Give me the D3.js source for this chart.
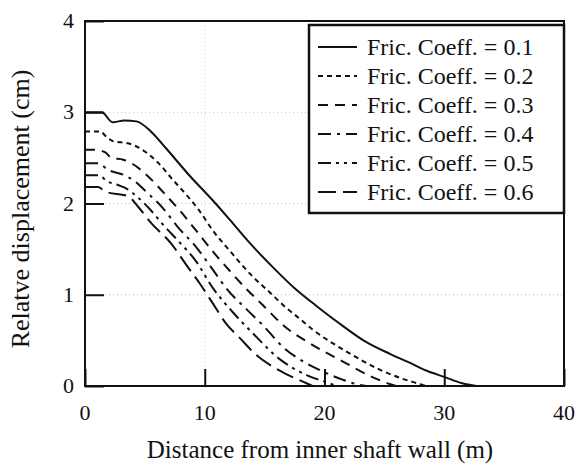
<!DOCTYPE html>
<html>
<head>
<meta charset="utf-8">
<script src="https://d3js.org/d3.v7.min.js"></script>
<style>
  body { margin: 0; background: #fff; }
  text { font-family: "Liberation Serif", "Times New Roman", serif; fill: #111; }
</style>
</head>
<body>
<div id="svg_chart"></div>
<script>
///////////// Data //////////////
// friction coefficients, one curve each
var fric_coeffs = [0.1, 0.2, 0.3, 0.4, 0.5, 0.6];

// [distance (m), relative displacement (cm)]
var curve_01 = [[0,3.0],[1.4,3.0],[2.3,2.89],[3.3,2.91],[4.3,2.9],[5.5,2.79],[6.8,2.6],[8.7,2.31],
  [10.7,2.03],[12.1,1.82],[13.6,1.59],[15.7,1.3],[17.6,1.06],[19.3,0.88],[21.2,0.69],[23.5,0.48],
  [25.5,0.35],[27.2,0.25],[28.5,0.17],[30,0.1],[31.5,0.03],[32.7,0]];
var curve_02 = [[0,2.79],[1.25,2.79],[1.8,2.73],[2.4,2.68],[3.6,2.66],[5,2.57],[6,2.46],[7.4,2.25],
  [8.7,2.06],[9.5,1.93],[10.7,1.7],[12.1,1.48],[14,1.2],[15.4,1.03],[16.6,0.88],[17.9,0.74],
  [19,0.62],[21.8,0.38],[24.6,0.18],[26.5,0.08],[28,0.02],[28.5,0]];
var curve_03 = [[0,2.59],[0.8,2.59],[1.7,2.56],[2.2,2.5],[3.2,2.48],[3.9,2.44],[5,2.33],[6.7,2.1],
  [8,1.91],[9.3,1.7],[10.7,1.47],[12.1,1.26],[13.5,1.06],[14.9,0.88],[16.6,0.66],[18.75,0.47],
  [21.5,0.27],[24.3,0.08],[25.5,0.02],[26,0]];
var curve_04 = [[0,2.44],[1.1,2.44],[1.9,2.37],[3.3,2.31],[4.2,2.24],[5.1,2.13],[6.5,1.95],[7.7,1.75],
  [9.3,1.52],[10.7,1.27],[11.8,1.07],[13.5,0.84],[14.9,0.66],[16.5,0.43],[18.2,0.27],[20,0.15],
  [21.5,0.07],[23,0.01],[23.5,0]];
var curve_05 = [[0,2.31],[1.1,2.31],[1.9,2.24],[2.8,2.2],[3.5,2.16],[4.3,2.08],[5.4,1.94],[6.5,1.77],
  [8,1.56],[9.2,1.38],[10.7,1.07],[12.4,0.8],[14,0.58],[16.2,0.3],[18.5,0.12],[20.4,0.03],[21,0]];
var curve_06 = [[0,2.18],[1.1,2.18],[1.7,2.13],[3.6,2.08],[4.4,1.97],[5.5,1.79],[7.2,1.56],[8.5,1.32],
  [9.6,1.12],[10.7,0.9],[11.8,0.68],[12.9,0.53],[14.3,0.34],[15.7,0.21],[16.8,0.13],[18.5,0.03],[19,0]];

var x_ticks = [0, 10, 20, 30, 40];
var y_ticks = [0, 1, 2, 3, 4];

var curves = [curve_01, curve_02, curve_03, curve_04, curve_05, curve_06];
// dash style per curve
var dash_styles = [null, '5,4', '10,7', '13,6,3,6', '13,5,3,5,3,5', '18,7'];

///////////// Canvas & scales //////////////
const svg_width = 577;
const svg_height = 466;
const plot_left = 85, plot_right = 564, plot_top = 21, plot_bottom = 386;

var svg = d3.select('#svg_chart').append('svg')
  .attr('width', svg_width)
  .attr('height', svg_height);

var x_scale = d3.scaleLinear().domain([0, 40]).range([plot_left, plot_right]);
var y_scale = d3.scaleLinear().domain([0, 4]).range([plot_bottom, plot_top]);

// faint dotted grid
svg.append('g').selectAll('line').data([1, 2, 3]).join('line')
  .attr('x1', plot_left).attr('x2', plot_right)
  .attr('y1', d => y_scale(d)).attr('y2', d => y_scale(d))
  .attr('stroke', '#bbb').attr('stroke-width', 1).attr('stroke-dasharray', '1,3');
svg.append('line')
  .attr('x1', x_scale(10)).attr('x2', x_scale(10))
  .attr('y1', plot_top).attr('y2', plot_bottom)
  .attr('stroke', '#ccc').attr('stroke-width', 1).attr('stroke-dasharray', '1,3');

///////////// Curves //////////////
var line = d3.line()
  .x(d => x_scale(d[0]))
  .y(d => y_scale(d[1]))
  .curve(d3.curveMonotoneX);

svg.append('g').selectAll('path').data(curves).join('path')
  .attr('d', line)
  .attr('fill', 'none')
  .attr('stroke', '#111')
  .attr('stroke-width', 2)
  .attr('stroke-dasharray', (d, i) => dash_styles[i]);

///////////// Axes //////////////
// frame
svg.append('rect')
  .attr('x', plot_left).attr('y', plot_top)
  .attr('width', plot_right - plot_left).attr('height', plot_bottom - plot_top)
  .attr('fill', 'none').attr('stroke', '#111').attr('stroke-width', 2);

// inward ticks
var x_axis = svg.append('g')
  .attr('transform', `translate(0,${plot_bottom})`)
  .call(d3.axisTop(x_scale).tickValues(x_ticks).tickSize(17).tickFormat(''));
var y_axis = svg.append('g')
  .attr('transform', `translate(${plot_left},0)`)
  .call(d3.axisRight(y_scale).tickValues(y_ticks).tickSize(19).tickFormat(''));
svg.selectAll('.domain').remove();
svg.selectAll('.tick line').attr('stroke', '#111').attr('stroke-width', 2);

// tick labels
svg.append('g').selectAll('text').data(x_ticks).join('text')
  .attr('x', d => x_scale(d)).attr('y', 420)
  .attr('text-anchor', 'middle').style('font-size', '22px')
  .text(d => d);
svg.append('g').selectAll('text').data(y_ticks).join('text')
  .attr('x', 74).attr('y', d => y_scale(d) + 7)
  .attr('text-anchor', 'end').style('font-size', '22px')
  .text(d => d);

// axis titles
svg.append('text')
  .attr('x', 320).attr('y', 458)
  .attr('text-anchor', 'middle').style('font-size', '25px')
  .text('Distance from inner shaft wall (m)');
svg.append('text')
  .attr('transform', 'translate(29,209) rotate(-90)')
  .attr('text-anchor', 'middle').style('font-size', '26px')
  .text('Relatve displacement (cm)');

///////////// Legend //////////////
var legend = svg.append('g');
legend.append('rect')
  .attr('x', 309).attr('y', 25).attr('width', 255).attr('height', 188)
  .attr('fill', '#fff').attr('stroke', '#111').attr('stroke-width', 2.5);

var legend_rows = legend.selectAll('g.row').data(fric_coeffs).join('g')
  .attr('class', 'row')
  .attr('transform', (d, i) => `translate(0,${47 + i * 29})`);
legend_rows.append('line')
  .attr('x1', 318).attr('x2', 357).attr('y1', 0).attr('y2', 0)
  .attr('stroke', '#111').attr('stroke-width', 2)
  .attr('stroke-dasharray', (d, i) => dash_styles[i]);
legend_rows.append('text')
  .attr('x', 367).attr('y', 8)
  .style('font-size', '24px')
  .text(d => 'Fric. Coeff. = ' + d);
</script>
</body>
</html>
